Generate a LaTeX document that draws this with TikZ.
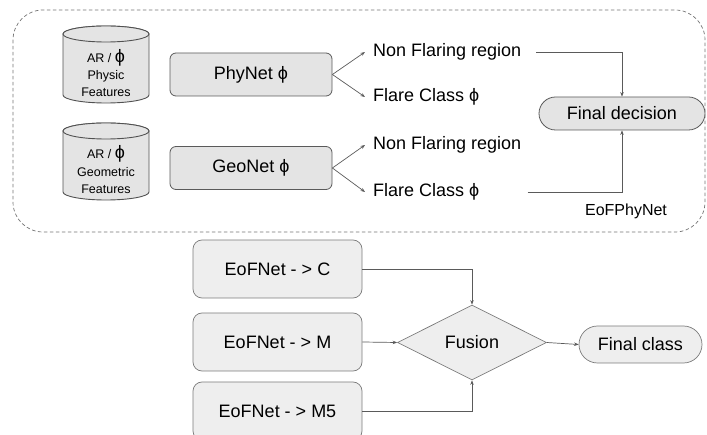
\documentclass[tikz,border=0pt]{standalone}
\usepackage{fontspec}
\setmainfont{Liberation Sans}
\usetikzlibrary{arrows.meta,shapes.geometric,shapes.misc}
\definecolor{boxfill}{HTML}{E4E4E4}
\definecolor{lowfill}{HTML}{EEEEEE}
\definecolor{edge}{HTML}{5A5A5A}
\tikzset{
  x=1pt, y=1pt,
  netbox/.style={draw=edge, fill=boxfill, rounded corners=6pt, minimum width=162pt, minimum height=43pt, inner sep=0pt, font=\fontsize{18}{21}\selectfont, line width=0.8pt},
  eofbox/.style={draw=edge!80, fill=lowfill, rounded corners=9pt, minimum width=169pt, minimum height=58pt, inner sep=0pt, font=\fontsize{18}{21}\selectfont, line width=0.7pt},
  outlabel/.style={anchor=west, inner sep=0pt, font=\fontsize{18}{21}\selectfont},
  cyltext/.style={align=center, inner sep=0pt, font=\fontsize{12.5}{16}\selectfont},
  pill/.style={rounded rectangle, draw=edge, fill=boxfill, inner sep=0pt, font=\fontsize{18}{21}\selectfont, line width=0.8pt},
  conn/.style={draw=edge, line width=0.7pt, -{Stealth[length=4.5pt,width=3.5pt]}},
  cylbody/.style={draw=edge!90!black, fill=boxfill, line width=0.9pt}
}
\newcommand{\drawcyl}[3]{% x-centre, top-ellipse centre y, bottom-ellipse centre y
  \path[cylbody] (#1-43,#2) -- (#1-43,#3) arc[start angle=180,end angle=360,x radius=43,y radius=8]
    -- (#1+43,#2) arc[start angle=0,end angle=180,x radius=43,y radius=8] -- cycle;
  \path[cylbody] (#1,#2) ellipse[x radius=43,y radius=8];
}
\begin{document}
\begin{tikzpicture}
\useasboundingbox (0,0) rectangle (707,-435);

% dashed frame of the EoFPhyNet stage
\draw[draw=edge!85, dash pattern=on 3.5pt off 2.5pt, line width=0.7pt, rounded corners=30pt] (13,-10) rectangle (705,-232);

% feature stores
\drawcyl{106}{-34}{-95}
\drawcyl{106}{-131}{-192}
\node[cyltext] (cylA) at (106,-73) {AR / {\fontsize{18}{18}\selectfont ϕ}\\[1pt] Physic\\[1pt] Features};
\node[cyltext] (cylB) at (106,-170) {AR / {\fontsize{18}{18}\selectfont ϕ}\\[2pt] Geometric\\[1pt] Features};

% networks
\node[netbox] (phy) at (251,-74.5) {PhyNet ϕ};
\node[netbox] (geo) at (251,-168) {GeoNet ϕ};

% outputs
\node[outlabel] (nf1) at (373,-52) {Non Flaring region};
\node[outlabel] (fc1) at (373,-97) {Flare Class ϕ};
\node[outlabel] (nf2) at (373,-145) {Non Flaring region};
\node[outlabel] (fc2) at (373,-192) {Flare Class ϕ};

\node[pill, minimum width=166pt, minimum height=33pt] (fd) at (622,-113.5) {Final decision};
\node[inner sep=0pt, font=\fontsize{16}{19}\selectfont] (eofp) at (626,-211) {EoFPhyNet};

\draw[conn] (phy.east) -- ([xshift=-8pt]nf1.west);
\draw[conn] (phy.east) -- ([xshift=-8pt]fc1.west);
\draw[conn] (geo.east) -- ([xshift=-8pt]nf2.west);
\draw[conn] (geo.east) -- ([xshift=-8pt]fc2.west);
\draw[conn] ([xshift=15pt]nf1.east) -| (fd.north);
\draw[conn] ([xshift=48pt]fc2.east) -| (fd.south);

% fusion stage
\node[eofbox] (ec) at (277.5,-269) {EoFNet - > C};
\node[eofbox] (em) at (277.5,-342) {EoFNet - > M};
\node[eofbox] (em5) at (277.5,-411) {EoFNet - > M5};
\node[diamond, draw=edge!80, fill=lowfill, line width=0.7pt, minimum width=149pt, minimum height=75pt, inner sep=0pt, font=\fontsize{18}{21}\selectfont] (fus) at (472,-342.5) {Fusion};
\node[pill, draw=edge!80, fill=lowfill, line width=0.7pt, minimum width=123pt, minimum height=37pt] (fcl) at (640.5,-344.5) {Final class};

\draw[conn] (ec.east) -| (fus.north);
\draw[conn] (em.east) -- (fus.west);
\draw[conn] (em5.east) -| (fus.south);
\draw[conn] (fus.east) -- (fcl.west);
\end{tikzpicture}
\end{document}
